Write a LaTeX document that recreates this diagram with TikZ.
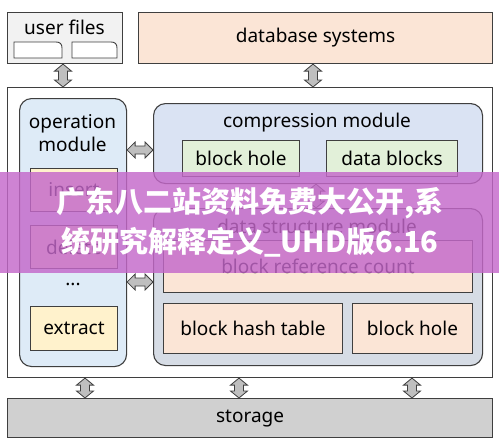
\documentclass[tikz,border=0pt]{standalone}
\usepackage{fontspec}
\setmainfont{Noto Sans}
\newfontfamily\cjk{Noto Sans CJK SC}
\usetikzlibrary{positioning,calc}
\definecolor{lin}{HTML}{3F3F3F}
\definecolor{usrc}{HTML}{F2F2F2}
\definecolor{dbc}{HTML}{FBE5D6}
\definecolor{opc}{HTML}{DEEBF7}
\definecolor{yel}{HTML}{FFF2CC}
\definecolor{cmpc}{HTML}{DAE3F3}
\definecolor{grn}{HTML}{E2F0D9}
\definecolor{dsc}{HTML}{D6DCE5}
\definecolor{stoc}{HTML}{D0D0D0}
\definecolor{arrg}{HTML}{BFBFBF}
\definecolor{ovl}{RGB}{196,104,202}
\newcommand\varr[2]{\draw[farr] let \p1=#1, \p2=#2 in (\p1) -- (\x1+8.5pt,\y1-7pt) -- (\x1+4.5pt,\y1-7pt)
 -- (\x1+4.5pt,\y2+7pt) -- (\x1+8.5pt,\y2+7pt) -- (\x1,\y2) -- (\x1-8.5pt,\y2+7pt) -- (\x1-4.5pt,\y2+7pt)
 -- (\x1-4.5pt,\y1-7pt) -- (\x1-8.5pt,\y1-7pt) -- cycle;}
\newcommand\harr[2]{\draw[farr] let \p1=#1, \p2=#2 in (\p1) -- (\x1+8pt,\y1+8pt) -- (\x1+8pt,\y1+4pt)
 -- (\x2-8pt,\y1+4pt) -- (\x2-8pt,\y1+8pt) -- (\x2,\y1) -- (\x2-8pt,\y1-8pt) -- (\x2-8pt,\y1-4pt)
 -- (\x1+8pt,\y1-4pt) -- (\x1+8pt,\y1-8pt) -- cycle;}

\begin{document}
\begin{tikzpicture}[x=1pt,y=-1pt,semithick,
 box/.style={draw=lin,line width=1.1pt,inner sep=0pt,anchor=north west},
 sub/.style={draw=lin,line width=1pt,inner sep=0pt,anchor=north west},
 lbl/.style={inner sep=0pt,font=\fontsize{19}{23}\selectfont,align=center},
 farr/.style={draw=lin,fill=arrg,line width=0.8pt,line join=miter}]
\useasboundingbox (0,0) rectangle (499,447);
\node[box,fill=usrc,minimum width=115,minimum height=51] (usr) at (7,12) {};
\node[box,fill=dbc,minimum width=354,minimum height=51] (db) at (138,12) {};
\node[box,fill=white,minimum width=485,minimum height=290] (main) at (7,87) {};
\node[box,fill=stoc,minimum width=485,minimum height=39] (sto) at (7,398) {};
\node[box,fill=opc,rounded corners=12,minimum width=107,minimum height=268] (op) at (19,98) {};
\node[box,fill=cmpc,rounded corners=12,minimum width=329,minimum height=80] (cmp) at (153,103) {};
\node[box,fill=dsc,rounded corners=12,minimum width=329,minimum height=157] (ds) at (153,208) {};
\node[sub,fill=yel,minimum width=87,minimum height=43] (ins) at (30,168) {};
\node[sub,fill=yel,minimum width=87,minimum height=43] (del) at (30,225) {};
\node[sub,fill=yel,minimum width=87,minimum height=44] (ext) at (30,306) {};
\node[sub,fill=grn,minimum width=117,minimum height=36] (bh) at (182,140) {};
\node[sub,fill=grn,minimum width=131,minimum height=36] (dblk) at (326,140) {};
\node[sub,fill=dbc,minimum width=309,minimum height=52] (brc) at (163,240) {};
\node[sub,fill=dbc,minimum width=179,minimum height=50] (bht) at (163,303) {};
\node[sub,fill=dbc,minimum width=120,minimum height=50] (bho) at (352,303) {};
\draw[lin,line width=0.9pt,fill=white] (14,58) |- (56,42) .. controls (60,42) and (62,44) .. (62,48) -- (62,58) -- cycle;
\draw[lin,line width=0.9pt,fill=white] (72,58) |- (111,42) .. controls (115,42) and (117,44) .. (117,48) -- (117,58) -- cycle;
\node[lbl] (tusr) at (64.5,27) {user files};
\node[lbl] (tdb) at (db) {database systems};
\node[lbl] (top) at (72.5,133) {operation\\module};
\node[lbl] (tins) at (ins) {insert};
\node[lbl] (tdel) at (del) {delete};
\node[lbl] (tdots) at (73,284) {...};
\node[lbl] (text) at (ext) {extract};
\node[lbl] (tcmp) at (317,123) {compression module};
\node[lbl] (tbh) at (bh) {block hole};
\node[lbl] (tdblk) at (dblk) {data blocks};
\node[lbl] (tds) at (317,226) {data structure module};
\node[lbl] (tbrc) at (brc) {block reference count};
\node[lbl] (tbht) at (bht) {block hash table};
\node[lbl] (tbho) at (bho) {block hole};
\node[lbl] (tsto) at (sto) {storage};
\varr{(63,0 |- usr.south)}{(63,0 |- main.north)}
\varr{(313,0 |- db.south)}{(313,0 |- main.north)}
\harr{(op.east |- 0,150)}{(cmp.west |- 0,150)}
\harr{(op.east |- 0,282)}{(ds.west |- 0,282)}
\varr{(316,0 |- cmp.south)}{(316,0 |- ds.north)}
\varr{(85,0 |- main.south)}{(85,0 |- sto.north)}
\varr{(239,0 |- main.south)}{(239,0 |- sto.north)}
\varr{(412,0 |- main.south)}{(412,0 |- sto.north)}
\node[anchor=north west,inner sep=0pt,fill=ovl,fill opacity=.82,text opacity=1,text=white,
 minimum width=499,minimum height=101,align=center,font=\cjk\bfseries\fontsize{29}{40}\selectfont] (ban) at (0,172)
 {广东八二站资料免费大公开,系\\统研究解释定义\_UHD版6.16};
\end{tikzpicture}
\end{document}
